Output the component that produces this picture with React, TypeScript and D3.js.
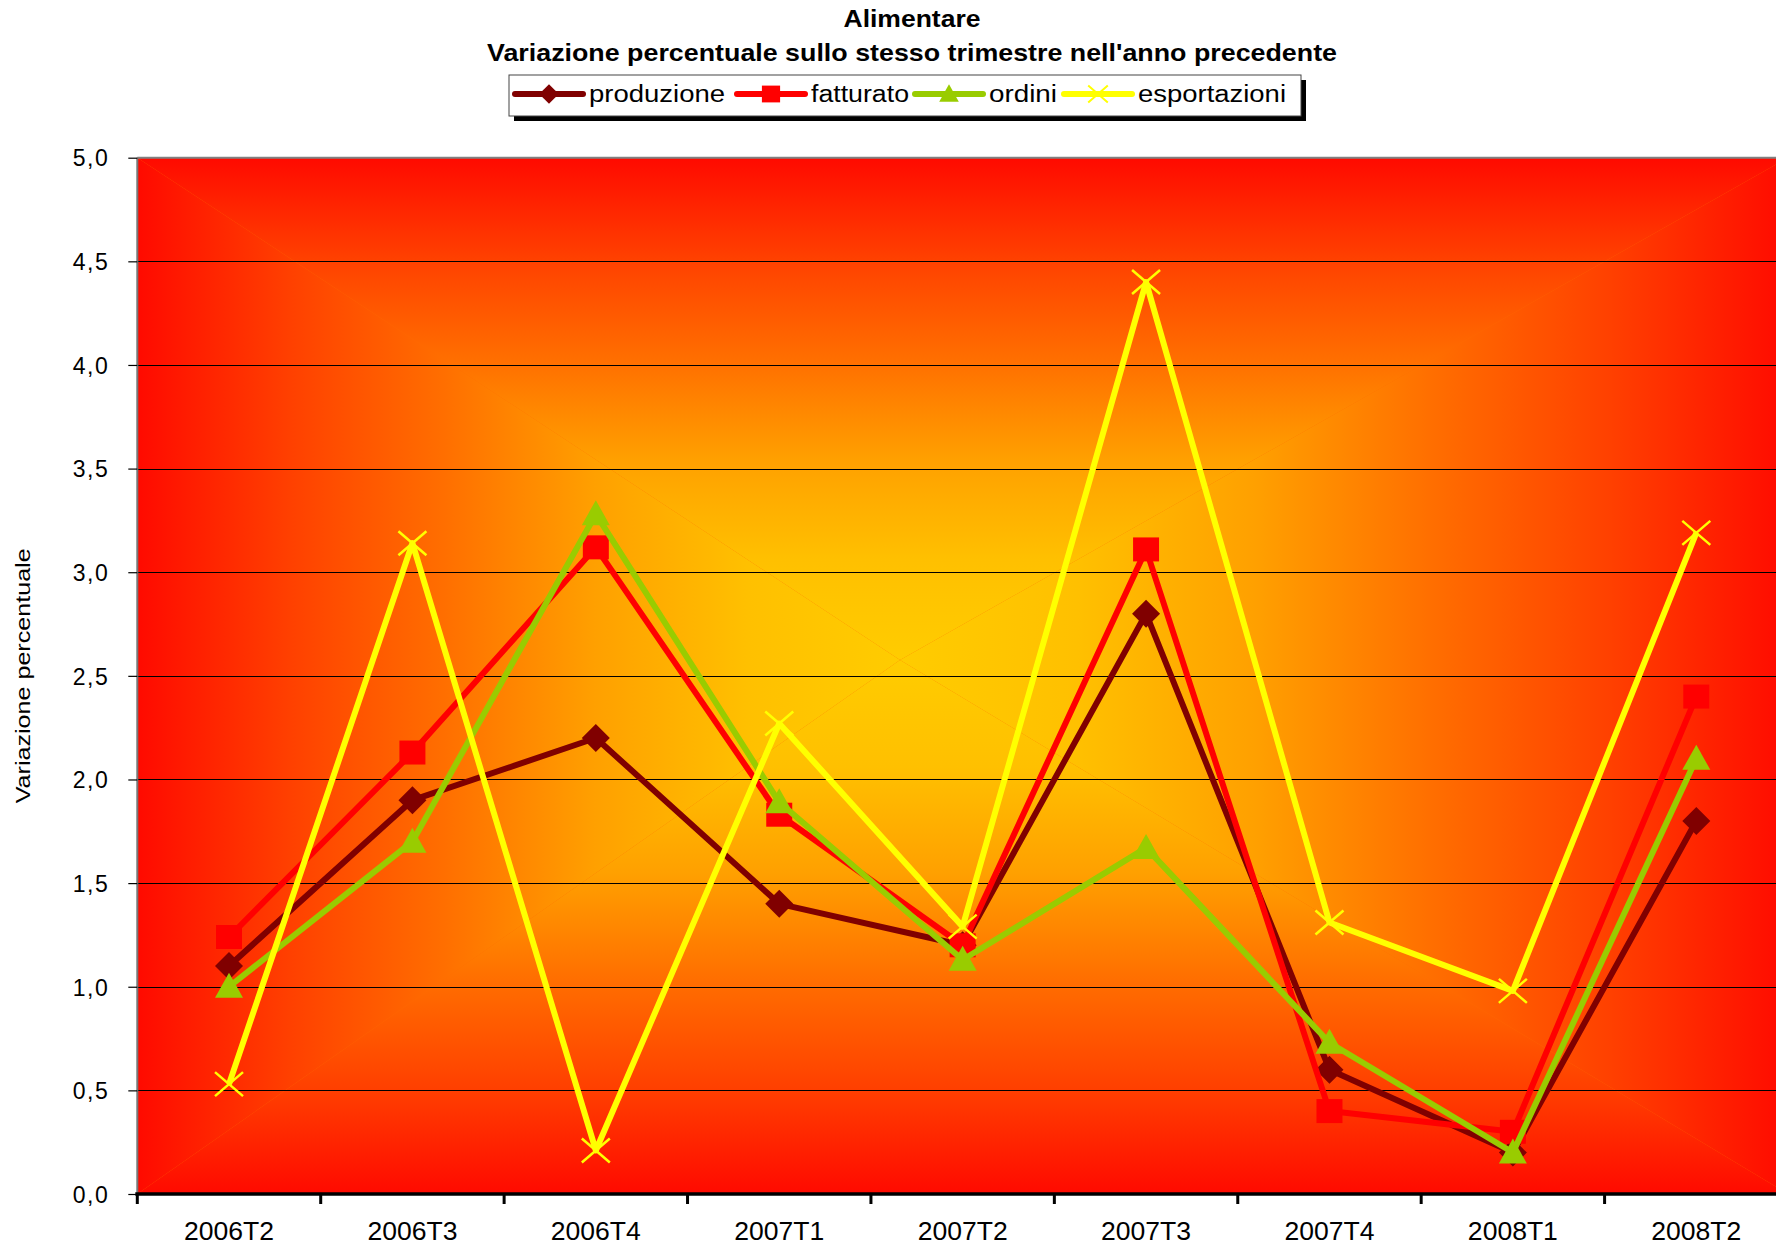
import React, { useEffect, useRef } from 'react';
import * as d3 from 'd3';

const categories = ['2006T2', '2006T3', '2006T4', '2007T1', '2007T2', '2007T3', '2007T4', '2008T1', '2008T2'];
const produzione = [1.1, 1.9, 2.2, 1.4, 1.2, 2.8, 0.6, 0.2, 1.8];
const fatturato = [1.24, 2.13, 3.12, 1.83, 1.2, 3.11, 0.4, 0.3, 2.4];
const ordini = [1.0, 1.7, 3.28, 1.89, 1.13, 1.67, 0.73, 0.2, 2.1];
const esportazioni = [0.53, 3.14, 0.21, 2.27, 1.29, 4.4, 1.31, 0.98, 3.19];
const yTicks = [0, 0.5, 1, 1.5, 2, 2.5, 3, 3.5, 4, 4.5, 5];

const seriesNames = ['produzione', 'fatturato', 'ordini', 'esportazioni'];
const seriesValues = [produzione, fatturato, ordini, esportazioni];
const seriesColors = ['#800000', '#FF0000', '#99CC00', '#FFFF00'];
const seriesMarkers = ['diamond', 'square', 'triangle', 'cross'];

const FONT = "'Liberation Sans', Arial, sans-serif";

function markerPath(type: string, s: number) {
  switch (type) {
    case 'diamond':
      return `M0,${-14 * s}L${14 * s},0L0,${14 * s}L${-14 * s},0Z`;
    case 'square':
      return `M${-13 * s},${-12 * s}H${13 * s}V${12 * s}H${-13 * s}Z`;
    case 'triangle':
      return `M0,${-14 * s}L${14 * s},${11 * s}H${-14 * s}Z`;
    default:
      return `M${-14 * s},${-12 * s}L${14 * s},${12 * s}M${-14 * s},${12 * s}L${14 * s},${-12 * s}`;
  }
}

function drawMarker(g: any, type: string, color: string, px: number, py: number, s: number) {
  const p = g.append('path')
    .attr('d', markerPath(type, s))
    .attr('transform', `translate(${px},${py})`);
  if (type === 'cross') {
    p.attr('fill', 'none').attr('stroke', color).attr('stroke-width', 2.5 * Math.max(s, 0.8));
  } else {
    p.attr('fill', color);
  }
}

const App: React.FC = () => {
  const svgRef = useRef<SVGSVGElement | null>(null);

  useEffect(() => {
    if (!svgRef.current) return;
    const svg = d3.select(svgRef.current);
    svg.selectAll('*').remove();

    const x0 = 137.3, x1 = 1788, y0 = 157.7, y1 = 1194;

    const x = d3.scaleBand().domain(categories).range([x0, x1]).padding(0);
    const y = d3.scaleLinear().domain([0, 5]).range([y1, y0]);
    const cxOf = (c: string) => (x(c) || 0) + x.bandwidth() / 2;

    // background: rectangular path gradient, red edges -> yellow centre
    const gcx = 900, gcy = 660;
    const stops = [
      [0, '#FF0A00'], [0.2, '#FF4000'], [0.4, '#FF6E00'],
      [0.6, '#FFA000'], [0.8, '#FFC000'], [1, '#FFCC00'],
    ];
    const defs = svg.append('defs');
    const parts = [
      { id: 'gTop', pts: [[x0, y0], [x1, y0], [gcx, gcy]], g: [0, y0, 0, gcy] },
      { id: 'gBot', pts: [[x0, y1], [x1, y1], [gcx, gcy]], g: [0, y1, 0, gcy] },
      { id: 'gLeft', pts: [[x0, y0], [x0, y1], [gcx, gcy]], g: [x0, 0, gcx, 0] },
      { id: 'gRight', pts: [[x1, y0], [x1, y1], [gcx, gcy]], g: [x1, 0, gcx, 0] },
    ];
    parts.forEach(p => {
      const lg = defs.append('linearGradient')
        .attr('id', p.id)
        .attr('gradientUnits', 'userSpaceOnUse')
        .attr('x1', p.g[0]).attr('y1', p.g[1])
        .attr('x2', p.g[2]).attr('y2', p.g[3]);
      stops.forEach(s => lg.append('stop').attr('offset', s[0]).attr('stop-color', s[1] as string));
    });
    const bg = svg.append('g');
    // underlay so triangle seams don't show white
    bg.append('rect').attr('x', x0).attr('y', y0)
      .attr('width', x1 - x0).attr('height', y1 - y0).attr('fill', '#FF6A00');
    parts.forEach(p => {
      bg.append('polygon')
        .attr('points', p.pts.map(d => d.join(',')).join(' '))
        .attr('fill', `url(#${p.id})`);
    });

    // gridlines
    svg.append('g')
      .selectAll('line')
      .data(yTicks.filter(t => t > 0 && t < 5))
      .join('line')
      .attr('x1', x0).attr('x2', x1)
      .attr('y1', d => Math.round(y(d)) + 0.5).attr('y2', d => Math.round(y(d)) + 0.5)
      .attr('stroke', '#000').attr('stroke-width', 1.2);

    // plot border (top / left)
    svg.append('line').attr('x1', x0).attr('x2', x1).attr('y1', y0).attr('y2', y0)
      .attr('stroke', '#808080').attr('stroke-width', 2);
    svg.append('line').attr('x1', x0).attr('x2', x0).attr('y1', y0).attr('y2', y1)
      .attr('stroke', '#777').attr('stroke-width', 2);

    // y axis
    const yAxis = svg.append('g')
      .attr('transform', `translate(${x0},0)`)
      .call(d3.axisLeft(y).tickValues(yTicks).tickSize(9).tickPadding(0)
        .tickFormat(d => (d as number).toFixed(1).replace('.', ',')));
    yAxis.select('.domain').remove();
    yAxis.selectAll('.tick line').attr('stroke', '#000').attr('stroke-width', 1.2);
    yAxis.selectAll('.tick text')
      .attr('x', -28)
      .attr('dy', '0.36em')
      .attr('fill', '#000')
      .style('font-family', FONT)
      .style('font-size', '23px')
      .style('letter-spacing', '1.5px');

    // x axis
    svg.append('line').attr('x1', x0 - 2).attr('x2', x1).attr('y1', y1).attr('y2', y1)
      .attr('stroke', '#000').attr('stroke-width', 3.5);
    svg.append('g')
      .selectAll('line')
      .data(categories)
      .join('line')
      .attr('x1', d => x(d) || 0).attr('x2', d => x(d) || 0)
      .attr('y1', y1).attr('y2', y1 + 10)
      .attr('stroke', '#000').attr('stroke-width', 3);
    svg.append('g')
      .selectAll('text')
      .data(categories)
      .join('text')
      .attr('x', d => cxOf(d))
      .attr('y', 1240)
      .attr('text-anchor', 'middle')
      .attr('textLength', 90)
      .attr('lengthAdjust', 'spacingAndGlyphs')
      .style('font-family', FONT)
      .style('font-size', '25px')
      .text(d => d);

    // y axis title
    svg.append('text')
      .attr('transform', `translate(30,${(y0 + y1) / 2}) rotate(-90)`)
      .attr('text-anchor', 'middle')
      .attr('textLength', 255)
      .attr('lengthAdjust', 'spacingAndGlyphs')
      .style('font-family', FONT)
      .style('font-size', '21px')
      .text('Variazione percentuale');

    // series
    const line = d3.line<number>()
      .x((_, i) => cxOf(categories[i]))
      .y(d => y(d));
    seriesValues.forEach((vals, si) => {
      const g = svg.append('g');
      g.append('path')
        .datum(vals)
        .attr('d', line)
        .attr('fill', 'none')
        .attr('stroke', seriesColors[si])
        .attr('stroke-width', 6)
        .attr('stroke-linejoin', 'round');
      vals.forEach((v, i) => drawMarker(g, seriesMarkers[si], seriesColors[si], cxOf(categories[i]), y(v), 1));
    });

    // title
    svg.append('text')
      .attr('x', 912).attr('y', 27)
      .attr('text-anchor', 'middle')
      .attr('textLength', 137)
      .attr('lengthAdjust', 'spacingAndGlyphs')
      .style('font-family', FONT).style('font-size', '24px').style('font-weight', 'bold')
      .text('Alimentare');
    svg.append('text')
      .attr('x', 912).attr('y', 61)
      .attr('text-anchor', 'middle')
      .attr('textLength', 850)
      .attr('lengthAdjust', 'spacingAndGlyphs')
      .style('font-family', FONT).style('font-size', '24px').style('font-weight', 'bold')
      .text("Variazione percentuale sullo stesso trimestre nell'anno precedente");

    // legend
    const lx0 = 509, lx1 = 1301, ly0 = 75, ly1 = 116;
    svg.append('rect').attr('x', lx0 + 5).attr('y', ly0 + 5)
      .attr('width', lx1 - lx0).attr('height', ly1 - ly0).attr('fill', '#000');
    svg.append('rect').attr('x', lx0).attr('y', ly0)
      .attr('width', lx1 - lx0).attr('height', ly1 - ly0)
      .attr('fill', '#fff').attr('stroke', '#444').attr('stroke-width', 1);
    const legendX = [515, 737, 915, 1064];
    const legendW = [136, 98, 68, 148];
    const ly = 94;
    seriesNames.forEach((name, si) => {
      const g = svg.append('g');
      const sx = legendX[si];
      g.append('line').attr('x1', sx).attr('x2', sx + 68).attr('y1', ly).attr('y2', ly)
        .attr('stroke', seriesColors[si]).attr('stroke-width', 6).attr('stroke-linecap', 'round');
      drawMarker(g, seriesMarkers[si], seriesColors[si], sx + 34, ly, 0.7);
      g.append('text')
        .attr('x', sx + 74).attr('y', ly + 8)
        .attr('textLength', legendW[si])
        .attr('lengthAdjust', 'spacingAndGlyphs')
        .style('font-family', FONT).style('font-size', '23px')
        .text(name);
    });
  }, []);

  return (
    <svg
      ref={svgRef}
      width={1776}
      height={1247}
      style={{ position: 'absolute', left: 0, top: 0, background: '#fff' }}
    />
  );
};

export default App;
